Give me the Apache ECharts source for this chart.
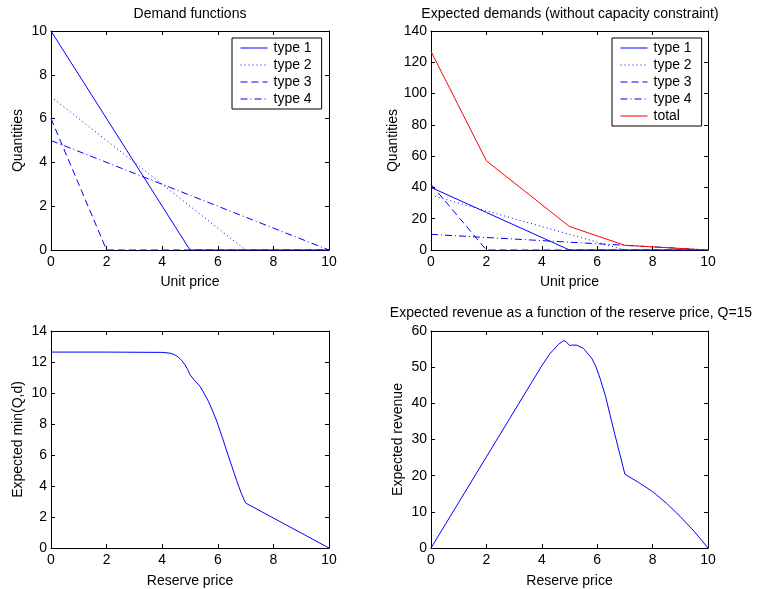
<!DOCTYPE html>
<html>
<head>
<meta charset="utf-8">
<script src="https://cdn.jsdelivr.net/npm/echarts@6/dist/echarts.min.js"></script>
<style>
html,body{margin:0;padding:0;background:#fff;}
#chart{width:763px;height:589px;}
</style>
</head>
<body>
<div id="chart"></div>
<script>
// ---- Data ----
// Panel 1: demand functions (unit price -> quantity)
const demandType1 = [[0, 10], [5, 0], [10, 0]];
const demandType2 = [[0, 7], [7, 0], [10, 0]];
const demandType3 = [[0, 6], [2, 0], [10, 0]];
const demandType4 = [[0, 5], [10, 0]];

// Panel 2: expected demands (without capacity constraint)
const pricePoints = [0, 2, 5, 7, 10];
const expType1 = [40, 24, 0, 0, 0];
const expType2 = [35, 25, 10, 0, 0];
const expType3 = [42, 0, 0, 0, 0];
const expType4 = [10, 8, 5, 3, 0];
const expTotal = [127, 57, 15, 3, 0];

// Panel 3: expected min(Q,d) vs reserve price
const minReserve = [0, 2, 4, 4.28, 4.45, 4.58, 4.7, 4.82, 4.92, 5.0, 5.15, 5.36, 5.5, 5.66, 5.8, 5.96, 6.15, 6.32, 6.5, 6.68, 6.85, 7.0, 10];
const minValues  = [12.64, 12.64, 12.62, 12.57, 12.47, 12.31, 12.1, 11.82, 11.5, 11.18, 10.85, 10.43, 10.0, 9.47, 8.9, 8.19, 7.2, 6.26, 5.3, 4.34, 3.5, 2.9, 0];

// Panel 4: expected revenue vs reserve price, Q=15
const revReserve = [0, 2, 4, 4.3, 4.6, 4.78, 4.87, 5.0, 5.1, 5.26, 5.5, 5.8, 5.95, 6.1, 6.3, 6.46, 6.65, 6.82, 7.0, 7.5, 8, 8.5, 9, 9.5, 10];
const revValues  = [0, 25.2, 50.4, 53.8, 56.3, 57.3, 57.1, 56.0, 56.1, 56.1, 55.2, 52.5, 50.2, 47.0, 42.0, 36.9, 31.0, 25.9, 20.4, 18.1, 15.6, 12.4, 8.7, 4.6, 0];

const xTicks = {min: 0, max: 10, interval: 2};
const yRanges = [
  {min: 0, max: 10, interval: 2},
  {min: 0, max: 140, interval: 20},
  {min: 0, max: 14, interval: 2},
  {min: 0, max: 60, interval: 10}
];
const xNames = ['Unit price', 'Unit price', 'Reserve price', 'Reserve price'];
const yNames = ['Quantities', 'Quantities', 'Expected min(Q,d)', 'Expected revenue'];
const titles = ['Demand functions', 'Expected demands (without capacity constraint)', '', 'Expected revenue as a function of the reserve price, Q=15'];

// ---- Layout ----
const FONT = '"Liberation Sans", Arial, Helvetica, sans-serif';
const grids = [
  {left: 51, top: 31, width: 278, height: 219},
  {left: 431, top: 31, width: 277, height: 219},
  {left: 51, top: 331, width: 278, height: 218},
  {left: 431, top: 331, width: 277, height: 218}
];
const titlePos = [
  {x: 190, y: 7}, {x: 570, y: 7}, {x: 190, y: 306}, {x: 571, y: 306}
];

const xAxes = [], yAxes = [];
grids.forEach((g, i) => {
  const axLine = {show: true, onZero: false, lineStyle: {color: '#000', width: 1}};
  const tick = {show: true, inside: true, length: 4, lineStyle: {color: '#000'}};
  xAxes.push({
    type: 'value', gridIndex: i, position: 'bottom',
    min: xTicks.min, max: xTicks.max, interval: xTicks.interval,
    axisLine: axLine, axisTick: tick, splitLine: {show: false},
    axisLabel: {color: '#000', fontSize: 14, fontFamily: FONT, margin: 5},
    name: xNames[i], nameLocation: 'middle', nameGap: i < 2 ? 25 : 26,
    nameTextStyle: {color: '#000', fontSize: 14, fontFamily: FONT}
  });
  xAxes.push({
    type: 'value', gridIndex: i, position: 'top',
    min: xTicks.min, max: xTicks.max, interval: xTicks.interval,
    axisLine: axLine, axisTick: tick, splitLine: {show: false},
    axisLabel: {show: false}
  });
  const r = yRanges[i];
  yAxes.push({
    type: 'value', gridIndex: i, position: 'left',
    min: r.min, max: r.max, interval: r.interval,
    axisLine: axLine, axisTick: tick, splitLine: {show: false},
    axisLabel: {color: '#000', fontSize: 14, fontFamily: FONT, margin: 4},
    name: yNames[i], nameLocation: 'middle', nameGap: 26,
    nameTextStyle: {color: '#000', fontSize: 14, fontFamily: FONT}
  });
  yAxes.push({
    type: 'value', gridIndex: i, position: 'right',
    min: r.min, max: r.max, interval: r.interval,
    axisLine: axLine, axisTick: tick, splitLine: {show: false},
    axisLabel: {show: false}
  });
});

const BLUE = '#0000ff', RED = '#ff0000';
const styles = {
  t1: 'solid',
  t2: [1, 3],
  t3: [7, 4],
  t4: [7, 3, 1, 3]
};
function line(name, data, gi, color, type) {
  return {
    name: name, type: 'line', data: data, xAxisIndex: gi * 2, yAxisIndex: gi * 2,
    symbol: 'none', showSymbol: false, animation: false, z: 5,
    lineStyle: {color: color, width: 1, type: type},
    itemStyle: {color: color}
  };
}
const zip = (xs, ys) => xs.map((x, k) => [x, ys[k]]);

const series = [
  line('type 1', demandType1, 0, BLUE, styles.t1),
  line('type 2', demandType2, 0, BLUE, styles.t2),
  line('type 3', demandType3, 0, BLUE, styles.t3),
  line('type 4', demandType4, 0, BLUE, styles.t4),
  line('type 1 ', zip(pricePoints, expType1), 1, BLUE, styles.t1),
  line('type 2 ', zip(pricePoints, expType2), 1, BLUE, styles.t2),
  line('type 3 ', zip(pricePoints, expType3), 1, BLUE, styles.t3),
  line('type 4 ', zip(pricePoints, expType4), 1, BLUE, styles.t4),
  line('total', zip(pricePoints, expTotal), 1, RED, 'solid'),
  line('min', zip(minReserve, minValues), 2, BLUE, 'solid'),
  line('revenue', zip(revReserve, revValues), 3, BLUE, 'solid')
];

function legend(names, left) {
  return {
    data: names, orient: 'vertical', left: left, top: 38,
    backgroundColor: '#fff', borderColor: '#000', borderWidth: 1, borderRadius: 0,
    padding: [3, 10, 3, 8], itemGap: 3, itemWidth: 27, itemHeight: 14,
    itemStyle: {opacity: 0, borderWidth: 0},
    lineStyle: {width: 1},
    textStyle: {color: '#000', fontSize: 14, fontFamily: FONT, padding: [0, 0, 0, 1]},
    selectedMode: false, z: 10,
    formatter: n => n.trim()
  };
}

const option = {
  backgroundColor: '#fff',
  animation: false,
  title: titles.map((t, i) => ({
    text: t, left: titlePos[i].x, top: titlePos[i].y, textAlign: 'center', padding: 0,
    textStyle: {color: '#000', fontSize: 14, fontWeight: 'normal', fontFamily: FONT}
  })),
  grid: grids.map(g => Object.assign({show: false, containLabel: false}, g)),
  xAxis: xAxes,
  yAxis: yAxes,
  legend: [
    legend(['type 1', 'type 2', 'type 3', 'type 4'], 232),
    legend(['type 1 ', 'type 2 ', 'type 3 ', 'type 4 ', 'total'], 612)
  ],
  series: series
};

const chart = echarts.init(document.getElementById('chart'), null, {renderer: 'canvas'});
chart.setOption(option);
</script>
</body>
</html>
